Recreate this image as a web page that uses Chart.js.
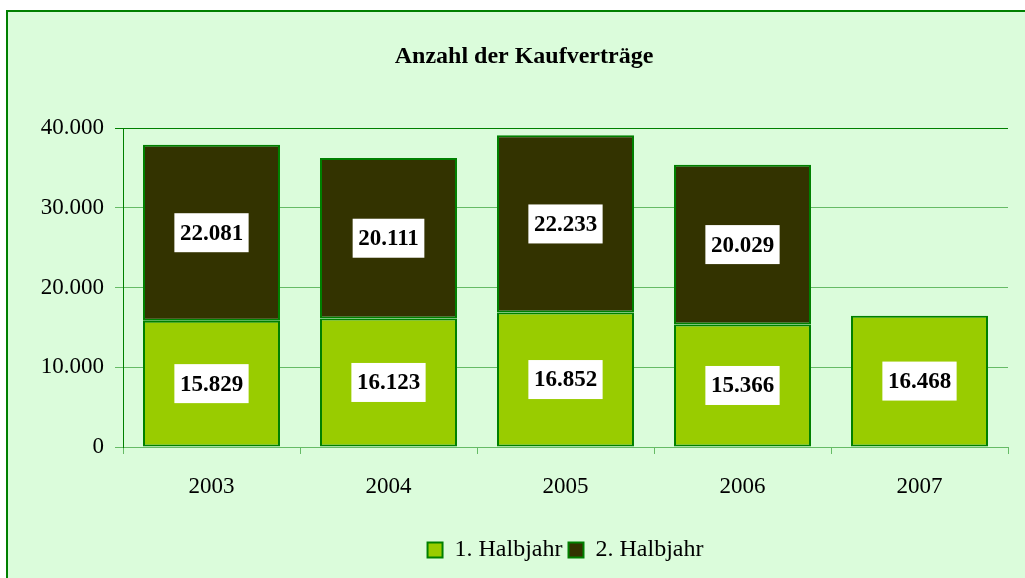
<!DOCTYPE html>
<html>
<head>
<meta charset="utf-8">
<script src="https://cdn.jsdelivr.net/npm/chart.js@4"></script>
<style>
  html, body { margin: 0; padding: 0; background: #ffffff; }
  #wrap { width: 1025px; height: 578px; }
</style>
</head>
<body>
<div id="wrap"><canvas id="grafica" width="1025" height="578"></canvas></div>
<script>
// Daten
const jahre = ['2003', '2004', '2005', '2006', '2007'];
const halbjahr1 = [15829, 16123, 16852, 15366, 16468];
const halbjahr2 = [22081, 20111, 22233, 20029, null];
const titel = 'Anzahl der Kaufverträge';

const schrift = "'Liberation Serif', 'Times New Roman', serif";
const hellGruen = '#99cc00';
const dunkel = '#333300';
const rahmen = '#008000';
const gitter = '#66bb66';

// Zahl mit Tausenderpunkt
function formatZahl(n) {
    return String(n).replace(/\B(?=(\d{3})+(?!\d))/g, '.');
}

// Hintergrund, Rahmen und Titel
const hintergrund = {
    id: 'hintergrund',
    beforeDraw(chart) {
        const c = chart.ctx;
        c.save();
        c.fillStyle = '#ffffff';
        c.fillRect(0, 0, chart.width, chart.height);
        c.fillStyle = '#dbfcdb';
        c.fillRect(7, 11, chart.width + 20, chart.height + 20);
        c.strokeStyle = rahmen;
        c.lineWidth = 2;
        c.strokeRect(7, 11, chart.width + 20, chart.height + 20);
        c.fillStyle = '#000000';
        c.font = 'bold 24px ' + schrift;
        c.textAlign = 'center';
        c.textBaseline = 'middle';
        c.fillText(titel, 524, 57);
        c.restore();
    }
};

// Werte in weißen Kästen
const wertLabels = {
    id: 'wertLabels',
    afterDatasetsDraw(chart) {
        const c = chart.ctx;
        c.save();
        c.font = 'bold 23px ' + schrift;
        c.textAlign = 'center';
        c.textBaseline = 'middle';
        chart.data.datasets.forEach(function (ds, i) {
            const meta = chart.getDatasetMeta(i);
            meta.data.forEach(function (bar, j) {
                const wert = ds.data[j];
                if (wert === null || wert === undefined) return;
                const text = formatZahl(wert);
                const mitte = (bar.y + bar.base) / 2;
                const breite = c.measureText(text).width + 11;
                c.fillStyle = '#ffffff';
                c.fillRect(bar.x - breite / 2, mitte - 19.5, breite, 39);
                c.fillStyle = '#000000';
                c.fillText(text, bar.x, mitte + 1);
            });
        });
        c.restore();
    }
};

const ctx = document.getElementById('grafica').getContext('2d');

const grafik = new Chart(ctx, {
    type: 'bar',
    data: {
        labels: jahre,
        datasets: [
            {
                label: '1. Halbjahr',
                data: halbjahr1,
                backgroundColor: hellGruen,
                borderColor: rahmen,
                borderWidth: 2,
                borderSkipped: false
            },
            {
                label: '2. Halbjahr',
                data: halbjahr2,
                backgroundColor: dunkel,
                borderColor: rahmen,
                borderWidth: 2,
                borderSkipped: false
            }
        ]
    },
    options: {
        responsive: false,
        animation: false,
        devicePixelRatio: 1,
        categoryPercentage: 1,
        barPercentage: 0.774,
        layout: { padding: { left: 0, right: 17, top: 128, bottom: 6 } },
        plugins: {
            title: { display: false },
            tooltip: { enabled: false },
            legend: {
                position: 'bottom',
                fullSize: false,
                labels: {
                    font: { family: schrift, size: 24 },
                    color: '#000000',
                    boxWidth: 15,
                    boxHeight: 15,
                    padding: 6
                }
            }
        },
        scales: {
            x: {
                stacked: true,
                grid: {
                    offset: true,
                    drawOnChartArea: false,
                    drawTicks: true,
                    tickLength: 7,
                    color: gitter
                },
                border: { color: gitter, width: 1 },
                ticks: {
                    font: { family: schrift, size: 23 },
                    color: '#000000',
                    padding: 19
                },
                afterFit: function (scale) { scale.height = 85; }
            },
            y: {
                stacked: true,
                min: 0,
                max: 40000,
                grid: {
                    color: function (context) {
                        return context.tick && context.tick.value === 40000 ? rahmen : gitter;
                    },
                    tickLength: 8
                },
                border: { color: rahmen, width: 1 },
                ticks: {
                    stepSize: 10000,
                    font: { family: schrift, size: 23 },
                    color: '#000000',
                    padding: 11,
                    callback: function (v) { return formatZahl(v); }
                },
                afterFit: function (scale) { scale.width = 123; }
            }
        }
    },
    plugins: [hintergrund, wertLabels]
});
</script>
</body>
</html>
